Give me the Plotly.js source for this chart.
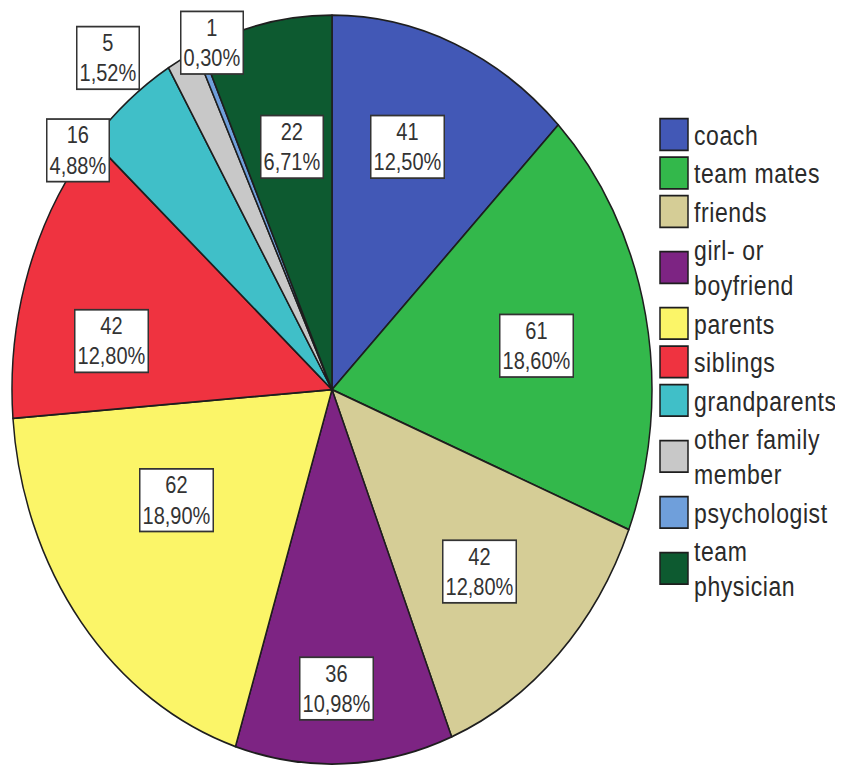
<!DOCTYPE html>
<html>
<head>
<meta charset="utf-8">
<script src="https://cdn.plot.ly/plotly-3.0.1.min.js"></script>
<style>
  html, body { margin: 0; padding: 0; background: #fff; width: 847px; height: 771px; overflow: hidden; }
  #wrap { width: 847px; height: 659px; transform: scaleY(1.17); transform-origin: 0 0; }
  #wrap .legendtext { letter-spacing: 0.6px; }
</style>
</head>
<body>
<div id="wrap"></div>
<script>
// ---- data ----
const categories = ['coach', 'team mates', 'friends', 'girl- or<br>boyfriend', 'parents',
  'siblings', 'grandparents', 'other family<br>member', 'psychologist', 'team<br>physician'];
const counts = [41, 61, 42, 36, 62, 42, 16, 5, 1, 22];

// ---- styles ----
const colors = ['#4258b6', '#33b84b', '#d5cd96', '#7d2483', '#fbf568',
  '#ef3340', '#40bfc8', '#c8c8c8', '#6f9fdb', '#0d5a30'];
const W = 847, H = 659;
const PIE = { cx: 332, cy: 333, r: 320 };        // pixel geometry of the pie
const labelRadius = [0.69, 0.65, 0.67, 0.80, 0.57, 0.70, 1.02, 1.13, 1.0, 0.66];
const labelAngleShift = [-2.6, 1.2, 1.4, 1.1, 7.2, -8.0, -11.7, -10.3, 2.7, 1.2];

const total = counts.reduce((a, b) => a + b, 0);
const pctText = counts.map(c => (c / total * 100).toFixed(2).replace('.', ','));

const trace = {
  type: 'pie',
  labels: categories,
  values: counts,
  sort: false,
  direction: 'clockwise',
  rotation: 0,
  textinfo: 'none',
  hoverinfo: 'label+value+percent',
  marker: { colors: colors, line: { color: '#1e1e1e', width: 1.5 } },
  domain: {
    x: [(PIE.cx - PIE.r) / W, (PIE.cx + PIE.r) / W],
    y: [1 - (PIE.cy + PIE.r) / H, 1 - (PIE.cy - PIE.r) / H]
  }
};

const annotations = [];
let cum = 0;
counts.forEach((c, i) => {
  const mid = (cum + c / 2) / total * 360 + labelAngleShift[i];
  cum += c;
  const a = mid * Math.PI / 180;
  const rr = PIE.r * labelRadius[i];
  const xp = PIE.cx + rr * Math.sin(a);
  const yp = PIE.cy - rr * Math.cos(a);
  annotations.push({
    xref: 'paper', yref: 'paper',
    x: xp / W, y: 1 - yp / H,
    xanchor: 'center', yanchor: 'middle',
    text: c + '<br>' + pctText[i] + '%',
    showarrow: false,
    bgcolor: '#ffffff',
    bordercolor: '#333333',
    borderwidth: 1.5,
    borderpad: 2,
    font: { family: 'Liberation Sans, Arial, sans-serif', size: 20, color: '#333333' }
  });
});

const layout = {
  width: W, height: H,
  margin: { l: 0, r: 0, t: 0, b: 0 },
  paper_bgcolor: '#ffffff',
  showlegend: true,
  legend: {
    x: 654 / W, xanchor: 'left',
    y: 1 - 93.5 / H, yanchor: 'top',
    bgcolor: 'rgba(0,0,0,0)',
    borderwidth: 0,
    font: { family: 'Liberation Sans, Arial, sans-serif', size: 23, color: '#2a2a2a' },
    traceorder: 'normal'
  },
  annotations: annotations
};

Plotly.newPlot('wrap', [trace], layout, { staticPlot: true, displayModeBar: false }).then(() => {
  document.querySelectorAll('.legendpie').forEach(p => p.setAttribute('d', 'M14,13.5H-14V-13.5H14Z'));
});
</script>
</body>
</html>
